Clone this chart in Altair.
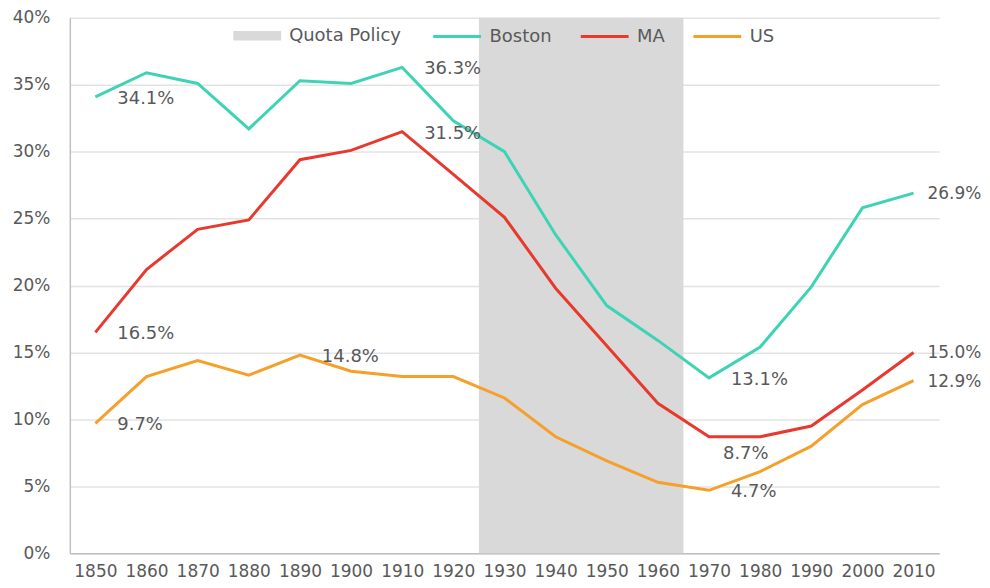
import altair as alt
import pandas as pd

years = list(range(1850, 2011, 10))
boston = [34.1, 35.9, 35.1, 31.7, 35.3, 35.1, 36.3, 32.3, 30.0, 23.8, 18.5, 15.9, 13.1, 15.4, 19.9, 25.8, 26.9]
ma = [16.5, 21.2, 24.2, 24.9, 29.4, 30.1, 31.5, 28.3, 25.1, 19.8, 15.5, 11.2, 8.7, 8.7, 9.5, 12.2, 15.0]
us = [9.7, 13.2, 14.4, 13.3, 14.8, 13.6, 13.2, 13.2, 11.6, 8.7, 6.9, 5.3, 4.7, 6.1, 8.0, 11.1, 12.9]

series_names = ["Boston", "MA", "US"]
series_colors = ["#3FD3B6", "#E8392F", "#F5A02A"]

quota_start = [1925]
quota_end = [1965]
quota_label = ["Quota Policy"]
quota_color = ["#D9D9D9"]

y_ticks = [0, 5, 10, 15, 20, 25, 30, 35, 40]

# labelled points: (series, year)
labels_right = [("Boston", 1850), ("Boston", 1910), ("MA", 1850), ("MA", 1910),
                ("US", 1850), ("US", 1890), ("Boston", 1970), ("US", 1970)]
labels_end = [("Boston", 2010), ("MA", 2010), ("US", 2010)]
labels_below = [("MA", 1970)]

values = {"Boston": boston, "MA": ma, "US": us}
df = pd.DataFrame({
    "year": years * 3,
    "value": boston + ma + us,
    "series": sum([[s] * len(years) for s in series_names], []),
})


def label_df(points):
    rows = []
    for s, yr in points:
        v = values[s][years.index(yr)]
        rows.append({"series": s, "year": yr, "value": v, "text": f"{v:.1f}%"})
    return pd.DataFrame(rows)


quota = pd.DataFrame({"start": quota_start, "end": quota_end, "label": quota_label,
                      "lo": [0], "hi": [40]})

W, H = 872, 537
FONT = "DejaVu Sans"
GREY = "#595959"

x_enc = alt.X("year:Q", scale=alt.Scale(domain=[1845, 2015], nice=False, zero=False),
              axis=alt.Axis(values=years, format="d", title=None, grid=False, ticks=False,
                            labelOverlap=False, labelPadding=10, domainColor="#BFBFBF",
                            domainWidth=1.5))
y_scale = alt.Scale(domain=[0, 40], nice=False)
y_enc = alt.Y("value:Q", scale=y_scale,
              axis=alt.Axis(values=y_ticks, labelExpr="datum.value + '%'", title=None,
                            ticks=False, labelPadding=20, minExtent=62, maxExtent=62,
                            gridColor="#E3E3E3", gridWidth=1.5, domainColor="#BFBFBF",
                            domainWidth=1.5))

rect = alt.Chart(quota).mark_rect().encode(
    x=alt.X("start:Q", scale=alt.Scale(domain=[1845, 2015], nice=False, zero=False)),
    x2="end:Q",
    y=alt.Y("lo:Q", scale=y_scale),
    y2="hi:Q",
    fill=alt.Fill("label:N", scale=alt.Scale(domain=quota_label, range=quota_color),
                  legend=alt.Legend(title=None, orient="none", legendX=163, legendY=-7,
                                    symbolType="M-1,-0.2H1V0.2H-1Z", symbolSize=2304,
                                    symbolOpacity=1, labelOffset=7,
                                    labelFontSize=18, labelColor=GREY, labelFont=FONT)),
)

lines = alt.Chart(df).mark_line(strokeWidth=3).encode(
    x=x_enc,
    y=y_enc,
    color=alt.Color("series:N", scale=alt.Scale(domain=series_names, range=series_colors),
                    legend=alt.Legend(title=None, orient="none", legendX=363, legendY=-7,
                                      direction="horizontal", symbolType="stroke",
                                      symbolSize=2304, symbolStrokeWidth=3,
                                      labelOffset=7, columnPadding=22,
                                      labelFontSize=18, labelColor=GREY, labelFont=FONT)),
)


def text_layer(points, size=17, **kw):
    return alt.Chart(label_df(points)).mark_text(
        align="left", baseline="middle", fontSize=size, font=FONT, color=GREY, **kw
    ).encode(x="year:Q", y="value:Q", text="text:N")


t1 = text_layer(labels_right, size=18, dx=22, dy=2)
t2 = text_layer(labels_end, size=17, dx=14, dy=1)
t3 = text_layer(labels_below, size=18, dx=14, dy=17)

chart = alt.layer(rect, lines, t1, t2, t3).properties(
    width=W, height=H,
    padding={"left": 0, "top": 0, "right": 0, "bottom": 0},
).configure_view(stroke=None).configure_axis(
    labelFont=FONT, labelFontSize=17, labelColor=GREY,
).resolve_scale(color="independent")

chart.save("out.html", embed_options={"renderer": "svg", "actions": False})
